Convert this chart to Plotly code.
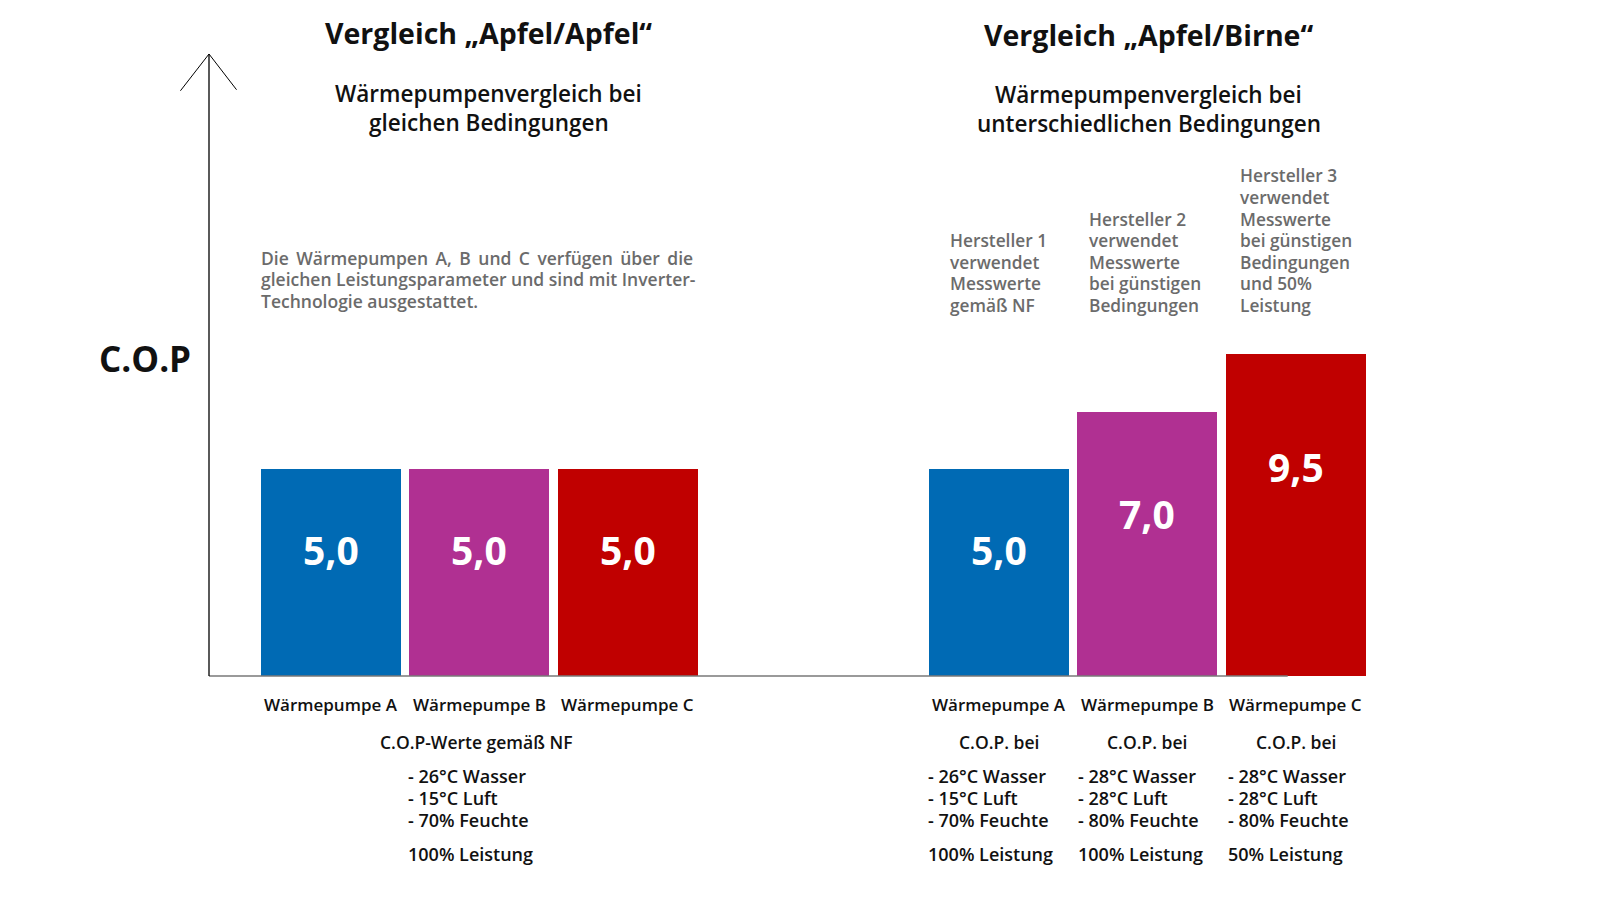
import plotly.graph_objects as go

# ---- data ----
pumps = ["Wärmepumpe A", "Wärmepumpe B", "Wärmepumpe C",
         "Wärmepumpe A", "Wärmepumpe B", "Wärmepumpe C"]
x_positions = [0, 1, 2, 4.505, 5.505, 6.505]
cop_labels = ["5,0", "5,0", "5,0", "5,0", "7,0", "9,5"]
bar_heights = [5.0, 5.0, 5.0, 5.0, 6.4, 7.8]   # drawn (schematic) heights
label_frac = [0.61, 0.61, 0.61, 0.61, 0.615, 0.65]
bar_colors = ["#006AB4", "#B03092", "#C00000", "#006AB4", "#B03092", "#C00000"]

titles = ["Vergleich „Apfel/Apfel“", "Vergleich „Apfel/Birne“"]
subtitles = [["Wärmepumpenvergleich bei", "gleichen Bedingungen"],
             ["Wärmepumpenvergleich bei", "unterschiedlichen Bedingungen"]]
left_note = ["Die Wärmepumpen A, B und C verfügen über die",
             "gleichen Leistungsparameter und sind mit Inverter-",
             "Technologie ausgestattet."]
maker_notes = [["Hersteller 1", "verwendet", "Messwerte", "gemäß NF"],
               ["Hersteller 2", "verwendet", "Messwerte", "bei günstigen", "Bedingungen"],
               ["Hersteller 3", "verwendet", "Messwerte", "bei günstigen", "Bedingungen",
                "und 50%", "Leistung"]]
left_cond_head = "C.O.P-Werte gemäß NF"
left_cond = ["- 26°C Wasser", "- 15°C Luft", "- 70% Feuchte"]
left_power = "100% Leistung"
right_cond_head = ["C.O.P. bei", "C.O.P. bei", "C.O.P. bei"]
right_cond = [["- 26°C Wasser", "- 15°C Luft", "- 70% Feuchte"],
              ["- 28°C Wasser", "- 28°C Luft", "- 80% Feuchte"],
              ["- 28°C Wasser", "- 28°C Luft", "- 80% Feuchte"]]
right_power = ["100% Leistung", "100% Leistung", "50% Leistung"]
y_label = "C.O.P"

# ---- layout helpers ----
W, H = 1600, 900
S = 0.98
def m(v):            # reference-view measurement -> figure pixel
    return v / S - 8

L, T, B, R = m(205), m(53), m(662), 1600
X0, PITCH = m(324.5), 148.3
def px(x):
    return (m(x) - L) / (R - L)
def py(y):
    return (B - m(y)) / (B - T)

FONT = "Open Sans"
BLACK = "#111111"
GRAY = "#6b6b6b"

fig = go.Figure()
fig.add_trace(go.Bar(
    x=x_positions, y=bar_heights, width=0.944,
    marker=dict(color=bar_colors, line=dict(width=0)),
    hoverinfo="skip", showlegend=False,
))

ann = []
def text(x, y, t, size, color=BLACK, weight=600, xanchor="center", xref="paper"):
    if xref == "paper" and xanchor == "left":
        x = x - 2
    ann.append(dict(x=x if xref != "paper" else px(x), y=py(y), xref=xref, yref="paper",
                    text=t, showarrow=False, xanchor=xanchor, yanchor="middle",
                    font=dict(family=FONT, size=size, color=color, weight=weight)))

def lines(x, y0, dy, items, size, color=BLACK, xanchor="left"):
    for i, t in enumerate(items):
        text(x, y0 + i * dy, t, size, color, xanchor=xanchor)

# values inside bars
for xp, h, f, lab in zip(x_positions, bar_heights, label_frac, cop_labels):
    ann.append(dict(x=xp, y=h * f, xref="x", yref="y", text=lab, showarrow=False,
                    xanchor="center", yanchor="middle",
                    font=dict(family=FONT, size=39, color="white", weight=700)))
# pump names
for xp, name in zip(x_positions, pumps):
    text(xp, 690, name, 17, xref="x")
# titles
text(479, 32, titles[0], 28.5, weight=700)
text(1126, 34, titles[1], 28.5, weight=700)
lines(479, 92, 28, subtitles[0], 22.5, xanchor="center")
lines(1126, 93, 28, subtitles[1], 22.5, xanchor="center")
# left gray note (first line justified like the reference)
note = [left_note[0].replace(" ", " \u2009")] + left_note[1:]
lines(256, 252.5, 21.2, note, 17.5, GRAY)
# maker notes
for lx, items in zip([931, 1067, 1215], maker_notes):
    lines(lx, 299 - 21.1 * (len(items) - 1), 21.1, items, 17.3, GRAY)
# y label
text(97, 351, y_label, 35, weight=700, xanchor="left")
# conditions left
text(467, 727, left_cond_head, 17.5)
lines(400, 760, 21.5, left_cond, 18)
text(400, 836, left_power, 18, xanchor="left")
# conditions right
for xp, lx, head, cond, pw in zip(x_positions[3:], [910, 1057, 1204], right_cond_head, right_cond, right_power):
    text(xp, 727, head, 17.5, xref="x")
    lines(lx, 760, 21.5, cond, 18)
    text(lx, 836, pw, 18, xanchor="left")

shapes = [
    dict(type="line", xref="paper", yref="paper", x0=0, x1=px(1262), y0=0, y1=0,
         line=dict(color="rgba(120,120,120,0.75)", width=2), layer="above"),
    dict(type="line", xref="paper", yref="paper", x0=0, x1=0, y0=0, y1=1,
         line=dict(color="black", width=1.3), layer="above"),
    dict(type="line", xref="paper", yref="paper", x0=0, x1=px(177), y0=1, y1=py(89),
         line=dict(color="black", width=1)),
    dict(type="line", xref="paper", yref="paper", x0=0, x1=px(232), y0=1, y1=py(88),
         line=dict(color="black", width=1)),
]

fig.update_layout(
    width=W, height=H,
    margin=dict(l=L, r=W - R, t=T, b=H - B, pad=0),
    paper_bgcolor="white", plot_bgcolor="white",
    xaxis=dict(range=[(L - X0) / PITCH, (R - X0) / PITCH], visible=False, fixedrange=True),
    yaxis=dict(range=[0, 15.05], visible=False, fixedrange=True),
    annotations=ann, shapes=shapes, bargap=0,
)

fig.write_html("out.html")
